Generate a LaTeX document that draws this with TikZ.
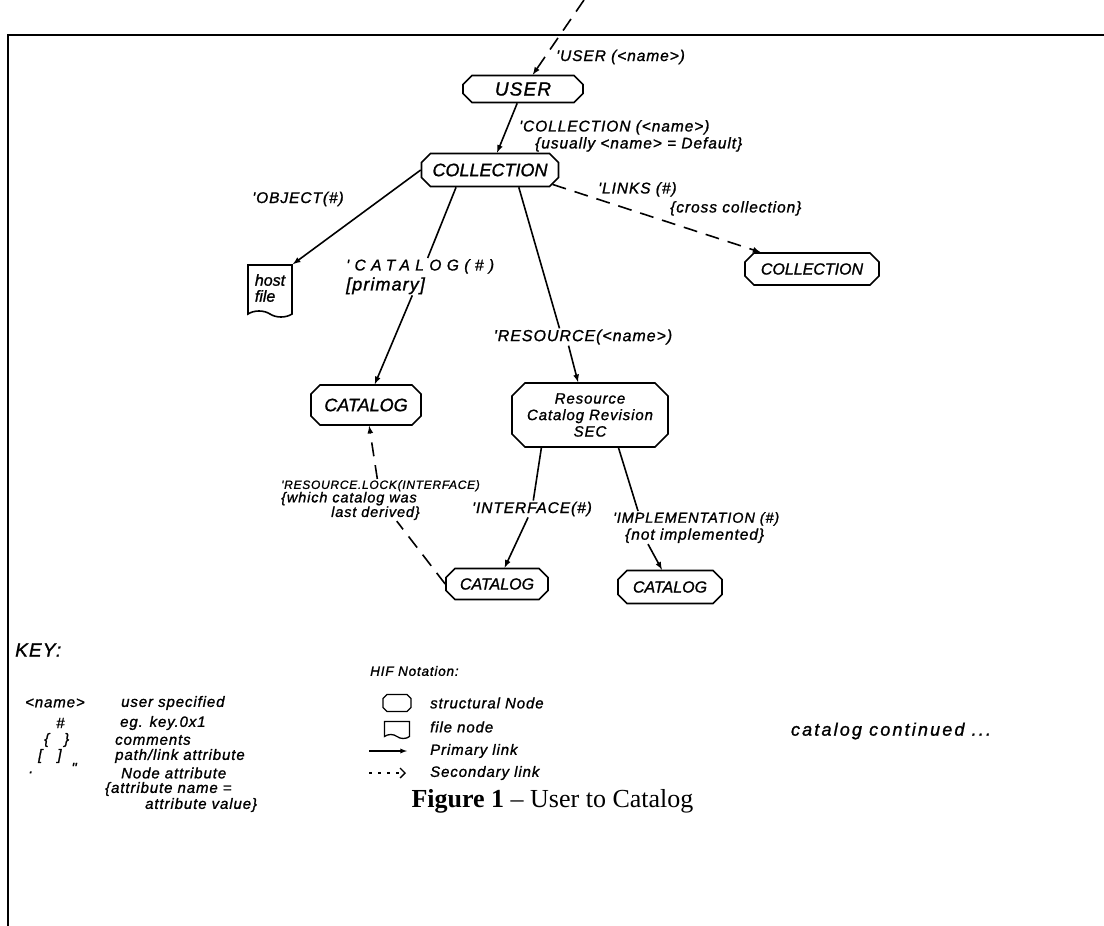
\documentclass[tikz,border=0pt]{standalone}
\usepackage{fontspec}
\setmainfont{Liberation Serif}
\newfontfamily\handfont{Liberation Sans}[FakeBold=1.2]
\newfontfamily\handwide{Liberation Sans}[LetterSpace=6, FakeBold=1.2]
\usepackage{tikz}
\usetikzlibrary{arrows.meta}
\usetikzlibrary{positioning, calc}
\usetikzlibrary{shapes.misc, shapes.symbols}

\begin{document}
\begin{tikzpicture}[x=1pt, y=-1pt,
    hand/.style={font=\handwide\itshape\fontsize{15.5}{17}\selectfont},
    snode/.style={draw, line width=1.6pt, chamfered rectangle, chamfered rectangle xsep=6pt, inner sep=2pt, font=\handfont\itshape\fontsize{18}{19}\selectfont},
    fnode/.style={draw, line width=1.6pt, tape, tape bend top=none, tape bend bottom=out and in, tape bend height=6pt, inner sep=2pt, align=left, font=\handfont\itshape\fontsize{16}{16}\selectfont},
    link/.style={line width=1.6pt},
    plink/.style={link, -latex},
    slink/.style={plink, dash pattern=on 14pt off 9pt},
    lbl/.style={hand, align=left, inner sep=1pt},
    key/.style={hand, anchor=west, inner sep=0pt, font=\handwide\itshape\fontsize{15}{16}\selectfont}
]
    \useasboundingbox (0,0) rectangle (1104,926);
    \draw[line width=2.4pt] (8,926) -- (8,35) -- (1104,35);

    % structural and file nodes
    \node[snode, minimum width=120pt, minimum height=27pt, font=\handwide\itshape\fontsize{19}{19}\selectfont] (user) at (523,89) {USER};
    \node[snode, minimum width=137pt, minimum height=33pt] (coll) at (490,170) {COLLECTION};
    \node[fnode, minimum width=44pt, minimum height=52pt] (host) at (270,288) {host\\file};
    \node[snode, minimum width=134pt, minimum height=32pt, font=\handfont\itshape\fontsize{16}{17}\selectfont] (coll2) at (812,269) {COLLECTION};
    \node[snode, minimum width=110pt, minimum height=40pt] (cat1) at (366,405) {CATALOG};
    \node[snode, minimum width=156pt, minimum height=64pt, chamfered rectangle xsep=10pt, align=center, font=\handwide\itshape\fontsize{15}{16.5}\selectfont] (sec) at (590,415) {Resource\\Catalog Revision\\SEC};
    \node[snode, minimum width=102pt, minimum height=31pt, font=\handfont\itshape\fontsize{16}{17}\selectfont] (cat2) at (497,584) {CATALOG};
    \node[snode, minimum width=104pt, minimum height=33pt, font=\handfont\itshape\fontsize{16}{17}\selectfont] (cat3) at (670,587) {CATALOG};

    % labels
    \node[lbl, anchor=west] (userlbl) at (555,57) {'USER (<name>)};
    \node[lbl, anchor=north west] (colllbl) at (518,119) {'COLLECTION (<name>)\\\hspace*{16pt}\{usually <name> = Default\}};
    \node[lbl] (objlbl) at (298,199) {'OBJECT(\#)};
    \node[lbl, anchor=north west] (linkslbl) at (597,181) {'LINKS (\#)\\[2pt]\hspace*{72pt}\{cross collection\}};
    \node[lbl, anchor=north west] (catlbl) at (345,258) {{\addfontfeature{LetterSpace=35}'CATALOG(\#)}\\[3pt]{\fontsize{18}{19}\selectfont{[}primary{]}}};
    \node[lbl, font=\handwide\itshape\fontsize{16}{17}\selectfont] (reslbl) at (583,337) {'RESOURCE(<name>)};
    \node[lbl, anchor=north west, font=\handwide\itshape\fontsize{14.5}{13.5}\selectfont] (locklbl) at (280,479) {{\fontsize{12}{13}\selectfont 'RESOURCE.LOCK(INTERFACE)}\\\{which catalog was\\\hspace*{50pt}last derived\}};
    \node[lbl] (intlbl) at (532,509) {'INTERFACE(\#)};
    \node[lbl, anchor=north west] (impllbl) at (612,511) {{\fontsize{14.5}{16}\selectfont 'IMPLEMENTATION (\#)}\\\hspace*{12pt}\{not implemented\}};

    % links
    \coordinate (utop) at (584,0);
    \draw[slink] (utop) -- (user);
    \draw[plink] (user) -- (coll);
    \draw[plink] (coll.west) -- (host.north east);
    \draw[link] (coll.207) -- (catlbl);
    \draw[plink] (catlbl) -- (cat1);
    \draw[link] (coll.-31) -- ($(reslbl.north west)!0.37!(reslbl.north east)$);
    \draw[plink] ($(reslbl.south west)!0.42!(reslbl.south east)$) -- (sec.110);
    \draw[slink] (coll.-13) -- (coll2);
    \draw[link] (sec.214) -- (intlbl);
    \draw[plink] (intlbl) -- (cat2);
    \draw[link] (sec.-49) -- ($(impllbl.north west)+(26,0)$);
    \draw[plink] ($(impllbl.south west)+(36,0)$) -- (cat3.115);
    \draw[link, dash pattern=on 14pt off 9pt] (cat2.west) -- (locklbl);
    \draw[slink] (locklbl) -- (cat1);

    % key
    \node[key, font=\handwide\itshape\fontsize{19}{19}\selectfont] (keyttl) at (15,650) {KEY:};
    \node[key] (ksym0) at (25,703) {<name>};
    \node[key] (ksym1) at (56,723) {\#};
    \node[key] (ksym2) at (44,740) {\{\quad\}};
    \node[key] (ksym3) at (38,756) {{[}\quad{]}};
    \node[key] (ksym4) at (29,768) {.\hspace{38pt}\char"22};
    \node[key] (ktxt0) at (121,703) {user specified};
    \node[key] (ktxt1) at (120,723) {eg. key.0x1};
    \node[key] (ktxt2) at (115,740) {comments};
    \node[key] (ktxt3) at (115,756) {path/link attribute};
    \node[key] (ktxt4) at (121,773) {Node attribute};
    \node[key] (ktxt5) at (105,789) {\{attribute name =};
    \node[key] (ktxt6) at (145,805) {attribute value\}};

    \node[key, font=\handwide\itshape\fontsize{13.5}{14}\selectfont] (hif) at (370,671) {HIF Notation:};
    \foreach \txt/\y [count=\i from 0] in {structural Node/703, file node/727, Primary link/751, Secondary link/773}
        \node[key] (hif\i) at (430,\y) {\txt};
    \node[snode, minimum width=28pt, minimum height=17pt, chamfered rectangle xsep=4pt, line width=1.3pt] (hifs) at (397,703) {};
    \node[fnode, minimum width=25pt, minimum height=17pt, tape bend height=4pt, line width=1.3pt] (hiff) at (397,728) {};
    \coordinate (pa0) at (369,751); \coordinate (pa1) at (407,751);
    \draw[plink, line width=1.3pt] (pa0) -- (pa1);
    \coordinate (sa0) at (369,773); \coordinate (sa1) at (406,773);
    \draw[line width=1.3pt, dash pattern=on 3pt off 6pt, -{Straight Barb[length=5pt]}] (sa0) -- (sa1);

    \node[anchor=west, font=\rmfamily\fontsize{26}{27}\selectfont] (fig) at (408,801) {\textbf{Figure 1} -- User to Catalog};
    \node[hand, font=\handwide\itshape\fontsize{18}{19}\selectfont\addfontfeature{LetterSpace=12}] (cont) at (891,731) {catalog continued ...};
\end{tikzpicture}
\end{document}
